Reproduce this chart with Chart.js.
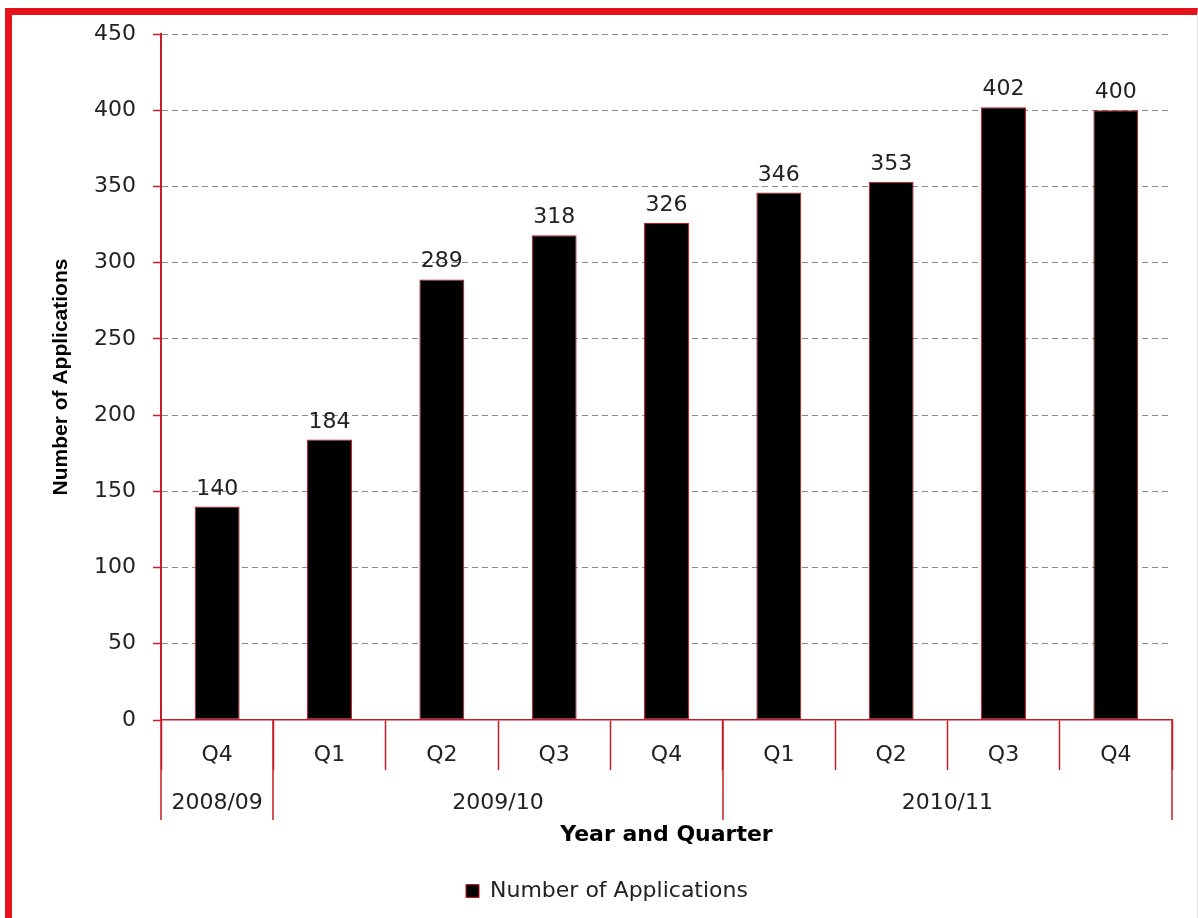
<!DOCTYPE html>
<html>
<head>
<meta charset="utf-8">
<script src="https://cdn.jsdelivr.net/npm/chart.js@4"></script>
<style>
html, body { margin: 0; padding: 0; background: #fff; }
#wrap { position: relative; width: 1198px; height: 918px; overflow: hidden; }
#frame { position: absolute; left: 5px; top: 8px; right: 0; bottom: -20px;
	border-left: 7px solid #e3121b; border-top: 7px solid #e3121b; border-right: 1px solid #e4e4e4; }
canvas { position: absolute; left: 0; top: 0; }
</style>
</head>
<body>
<div id="wrap">
	<div id="frame"></div>
	<canvas id="myChart" width="1198" height="918"></canvas>
</div>
<script>
const quarters = ['Q4', 'Q1', 'Q2', 'Q3', 'Q4', 'Q1', 'Q2', 'Q3', 'Q4']
const years = ['2008/09', '2009/10', '2010/11']
const yearSpans = [1, 4, 4]
const applications = [140, 184, 289, 318, 326, 346, 353, 402, 400]

const axisRed = '#c41e2a'
const textFont = '"DejaVu Sans", sans-serif'

const valueLabels = {
	id: 'valueLabels',
	afterDatasetsDraw(chart) {
		const ctx = chart.ctx
		const meta = chart.getDatasetMeta(0)
		ctx.save()
		ctx.font = '22px ' + textFont
		ctx.fillStyle = '#222'
		ctx.textAlign = 'center'
		ctx.textBaseline = 'alphabetic'
		meta.data.forEach((bar, i) => {
			ctx.fillText(applications[i], bar.x, bar.y - 12)
		})
		ctx.restore()
	},
}

// second row of the category axis: the financial years
const yearLabels = {
	id: 'yearLabels',
	afterDraw(chart) {
		const x = chart.scales.x
		const ctx = chart.ctx
		const step = x.width / quarters.length
		ctx.save()
		ctx.strokeStyle = axisRed
		ctx.lineWidth = 1.5
		ctx.font = '22px ' + textFont
		ctx.fillStyle = '#222'
		ctx.textAlign = 'center'
		ctx.textBaseline = 'middle'
		let start = 0
		const edges = []
		yearSpans.forEach((span, i) => {
			const left = x.getPixelForValue(start) - step / 2
			const right = x.getPixelForValue(start + span - 1) + step / 2
			if (i === 0) edges.push(left)
			edges.push(right)
			ctx.fillText(years[i], (left + right) / 2, x.top + 83)
			start += span
		})
		edges.forEach((px) => {
			const lx = Math.round(px)
			ctx.beginPath()
			ctx.moveTo(lx, x.top)
			ctx.lineTo(lx, x.top + 100)
			ctx.stroke()
		})
		ctx.restore()
	},
}

const chart = document.getElementById('myChart')
new Chart(chart, {
	type: 'bar',
	data: {
		labels: quarters,
		datasets: [
			{
				label: 'Number of Applications',
				data: applications,
				backgroundColor: '#000000',
				borderColor: '#d0101c',
				borderWidth: 1,
				borderSkipped: false,
				barPercentage: 0.4,
				categoryPercentage: 1,
			},
		],
	},
	plugins: [valueLabels, yearLabels],
	options: {
		responsive: false,
		animation: false,
		layout: {
			padding: { left: 42, right: 26, top: 34, bottom: 6 },
		},
		scales: {
			y: {
				min: 0,
				max: 450,
				afterFit: (scale) => {
					scale.width = 119
				},
				ticks: {
					stepSize: 50,
					padding: 17,
					color: '#222',
					font: { family: textFont, size: 22 },
				},
				grid: {
					color: (ctx) => (ctx.tick && ctx.tick.value === 0 ? 'rgba(0,0,0,0)' : '#8a8a8a'),
					tickColor: axisRed,
					tickLength: 8,
					tickWidth: 1.5,
					lineWidth: 1,
				},
				border: {
					color: axisRed,
					width: 2,
					dash: [6, 4],
				},
				title: {
					display: true,
					text: 'Number of Applications',
					color: '#000',
					font: { family: '"Liberation Sans", Arial, sans-serif', size: 21, weight: 'bold' },
					padding: { top: 7, bottom: 0 },
				},
			},
			x: {
				afterFit: (scale) => {
					scale.height = 150
				},
				ticks: {
					padding: -28,
					color: '#222',
					maxRotation: 0,
					autoSkip: false,
					font: { family: textFont, size: 22 },
				},
				grid: {
					drawOnChartArea: false,
					drawTicks: true,
					tickLength: 50,
					tickWidth: 1.5,
					color: axisRed,
					tickColor: axisRed,
				},
				border: {
					color: axisRed,
					width: 1.5,
				},
				title: {
					display: true,
					text: 'Year and Quarter',
					color: '#000',
					font: { family: textFont, size: 22, weight: 'bold' },
					padding: { top: 0, bottom: 22 },
				},
			},
		},
		plugins: {
			legend: {
				position: 'bottom',
				labels: {
					boxWidth: 13,
					boxHeight: 13,
					padding: 10,
					color: '#222',
					font: { family: textFont, size: 22 },
				},
			},
			tooltip: {
				enabled: false,
			},
		},
	},
})
</script>
</body>
</html>
